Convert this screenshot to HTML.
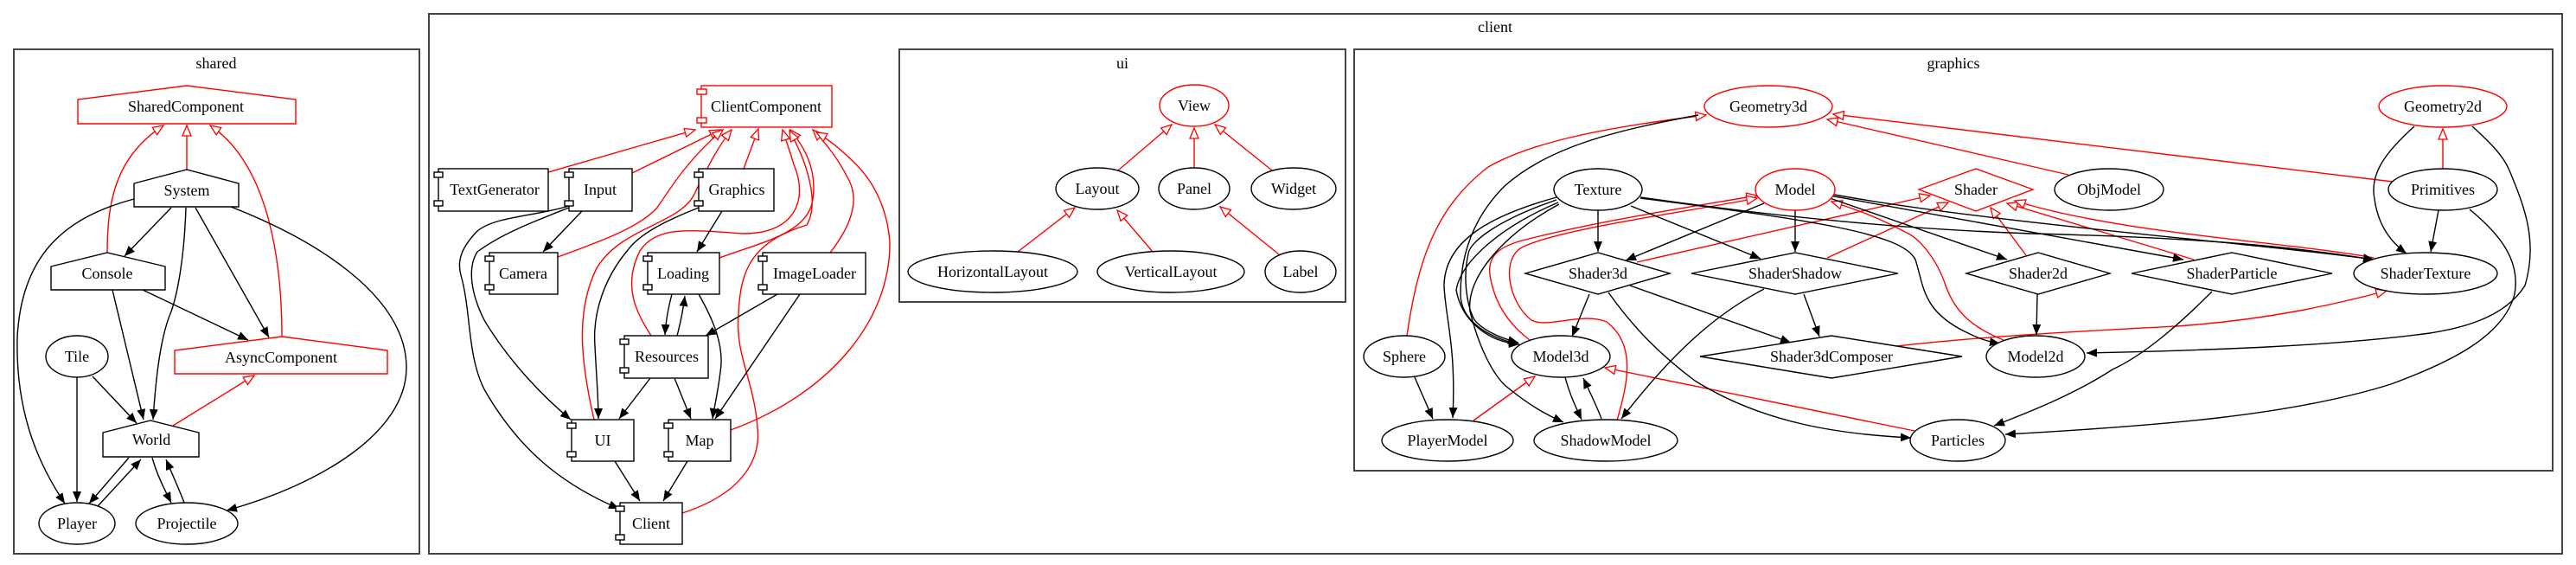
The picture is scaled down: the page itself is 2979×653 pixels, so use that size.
<!DOCTYPE html>
<html><head><meta charset="utf-8"><style>
html,body{margin:0;padding:0;background:#fff;}
svg{display:block;}
text{font-family:"Liberation Serif",serif;font-size:18px;text-anchor:middle;dominant-baseline:central;fill:#000;}
.k{fill:none;stroke:#000;stroke-width:1.4;}
.r{fill:none;stroke:#f00;stroke-width:1.4;}
.nk{fill:#fff;stroke:#000;stroke-width:1.4;}
.nr{fill:#fff;stroke:#f00;stroke-width:1.4;}
.cl{fill:none;stroke:#444;stroke-width:2;}
</style></head><body>
<svg width="2979" height="653" viewBox="0 0 2979 653" xmlns="http://www.w3.org/2000/svg">
<defs>
<marker id="a" markerUnits="userSpaceOnUse" markerWidth="14" markerHeight="12" refX="12" refY="5" orient="auto"><polygon points="0,0 12,5 0,10" fill="#000"/></marker>
<marker id="h" markerUnits="userSpaceOnUse" markerWidth="16" markerHeight="14" refX="13" refY="6" orient="auto"><polygon points="1,1 13,6 1,11" fill="#fff" stroke="#f00" stroke-width="1.3"/></marker>
</defs>

<!-- clusters -->
<rect class="cl" x="16" y="57" width="469" height="583"/>
<text x="250" y="73">shared</text>
<rect class="cl" x="496" y="16" width="2467" height="624"/>
<text x="1729" y="31">client</text>
<rect class="cl" x="1040" y="57" width="516" height="292"/>
<text x="1298" y="73">ui</text>
<rect class="cl" x="1566" y="57" width="1386" height="487"/>
<text x="2259" y="73">graphics</text>

<!-- ===== shared edges ===== -->
<path class="r" d="M124,292 C124,230 135,180 189,145" marker-end="url(#h)"/>
<path class="r" d="M216,196 L216,145" marker-end="url(#h)"/>
<path class="r" d="M326,389 C326,300 310,190 243,145" marker-end="url(#h)"/>
<path class="r" d="M200,492 L294,434" marker-end="url(#h)"/>
<path class="k" d="M198,240 L144,296" marker-end="url(#a)"/>
<path class="k" d="M215,240 C213,300 205,340 198,360 C185,390 180,440 177,485" marker-end="url(#a)"/>
<path class="k" d="M226,240 L311,390" marker-end="url(#a)"/>
<path class="k" d="M155,230 C80,250 25,290 20,390 C18,470 40,530 75,582" marker-end="url(#a)"/>
<path class="k" d="M267,239 C360,275 470,340 470,425 C470,500 370,560 262,590" marker-end="url(#a)"/>
<path class="k" d="M130,335 L166,485" marker-end="url(#a)"/>
<path class="k" d="M165,335 L287,393" marker-end="url(#a)"/>
<path class="k" d="M107,435 L158,489" marker-end="url(#a)"/>
<path class="k" d="M89,436 L89,580" marker-end="url(#a)"/>
<path class="k" d="M149,529 L103,582" marker-end="url(#a)"/>
<path class="k" d="M113,585 L163,531" marker-end="url(#a)"/>
<path class="k" d="M176,529 C182,550 190,565 198,581" marker-end="url(#a)"/>
<path class="k" d="M213,581 C207,565 200,550 192,531" marker-end="url(#a)"/>

<!-- shared nodes -->
<polygon class="nr" points="90,143 90,115 216,99 342,115 342,143"/><text x="215" y="123">SharedComponent</text>
<polygon class="nk" points="155,239 155,212 216,196 276,212 276,239"/><text x="216" y="220">System</text>
<polygon class="nk" points="59,335 59,308 124,292 191,308 191,335"/><text x="124" y="316">Console</text>
<polygon class="nr" points="202,432 202,405 326,389 448,405 448,432"/><text x="325" y="413">AsyncComponent</text>
<ellipse class="nk" cx="89" cy="412" rx="36" ry="24"/><text x="89" y="412">Tile</text>
<polygon class="nk" points="119,528 119,500 174,486 230,500 230,528"/><text x="175" y="508">World</text>
<ellipse class="nk" cx="89" cy="605" rx="44" ry="24"/><text x="89" y="605">Player</text>
<ellipse class="nk" cx="216" cy="605" rx="59" ry="24"/><text x="216" y="605">Projectile</text>

<!-- ===== client edges ===== -->
<path class="r" d="M634,199 L804,150" marker-end="url(#h)"/>
<path class="r" d="M731,200 L833,150" marker-end="url(#h)"/>
<path class="r" d="M645,297 C700,277 740,262 760,240 C780,210 800,180 836,150" marker-end="url(#h)"/>
<path class="r" d="M687,485 C672,420 665,360 690,310 C720,260 790,260 805,220 C820,190 830,170 846,150" marker-end="url(#h)"/>
<path class="r" d="M860,195 L877,149" marker-end="url(#h)"/>
<path class="r" d="M832,298 C880,280 935,270 940,230 C945,195 930,170 914,150" marker-end="url(#h)"/>
<path class="r" d="M753,388 C735,360 720,330 740,290 C760,260 800,266 860,270 C920,270 935,230 918,190 C912,170 908,160 905,150" marker-end="url(#h)"/>
<path class="r" d="M789,593 C860,570 880,530 876,494 C872,440 850,410 854,364 C856,310 870,280 933,260 C945,240 940,200 913,151" marker-end="url(#h)"/>
<path class="r" d="M960,292 C985,260 995,230 980,205 C970,185 955,165 940,150" marker-end="url(#h)"/>
<path class="r" d="M845,497 C960,455 1030,370 1029,280 C1026,240 1010,210 990,190 C975,175 960,162 944,153" marker-end="url(#h)"/>
<path class="k" d="M673,244 L628,291" marker-end="url(#a)"/>
<path class="k" d="M658,240 C620,255 580,270 552,291 C540,310 545,340 560,370 C590,420 630,460 660,485" marker-end="url(#a)"/>
<path class="k" d="M658,238 C620,250 570,250 551,268 C535,285 528,300 533,318 C545,360 540,410 560,450 C600,520 650,560 716,588" marker-end="url(#a)"/>
<path class="k" d="M808,240 C770,255 740,270 726,289 C700,320 685,360 688,400 C690,440 692,460 692,484" marker-end="url(#a)"/>
<path class="k" d="M835,244 L806,291" marker-end="url(#a)"/>
<path class="k" d="M777,340 C773,355 770,370 769,387" marker-end="url(#a)"/>
<path class="k" d="M783,388 C787,373 790,358 792,342" marker-end="url(#a)"/>
<path class="k" d="M808,340 C825,370 838,400 833,430 C830,455 826,470 824,484" marker-end="url(#a)"/>
<path class="k" d="M899,340 L816,388" marker-end="url(#a)"/>
<path class="k" d="M925,340 L827,484" marker-end="url(#a)"/>
<path class="k" d="M752,437 L716,484" marker-end="url(#a)"/>
<path class="k" d="M780,437 L799,484" marker-end="url(#a)"/>
<path class="k" d="M711,533 L740,579" marker-end="url(#a)"/>
<path class="k" d="M795,533 L767,579" marker-end="url(#a)"/>

<!-- client nodes (component boxes) -->
<g>
<rect class="nr" x="811" y="99" width="151" height="48"/><rect class="nr" x="806" y="103" width="11" height="6"/><rect class="nr" x="806" y="136" width="11" height="6"/><text x="886" y="123">ClientComponent</text>
<rect class="nk" x="507" y="195" width="127" height="49"/><rect class="nk" x="502" y="199" width="10" height="6"/><rect class="nk" x="502" y="232" width="10" height="6"/><text x="572" y="219">TextGenerator</text>
<rect class="nk" x="658" y="195" width="73" height="49"/><rect class="nk" x="653" y="199" width="10" height="6"/><rect class="nk" x="653" y="232" width="10" height="6"/><text x="694" y="219">Input</text>
<rect class="nk" x="808" y="195" width="87" height="49"/><rect class="nk" x="803" y="199" width="10" height="6"/><rect class="nk" x="803" y="232" width="10" height="6"/><text x="852" y="219">Graphics</text>
<rect class="nk" x="566" y="292" width="79" height="48"/><rect class="nk" x="561" y="296" width="10" height="6"/><rect class="nk" x="561" y="329" width="10" height="6"/><text x="605" y="316">Camera</text>
<rect class="nk" x="749" y="292" width="83" height="48"/><rect class="nk" x="744" y="296" width="10" height="6"/><rect class="nk" x="744" y="329" width="10" height="6"/><text x="790" y="316">Loading</text>
<rect class="nk" x="882" y="292" width="119" height="48"/><rect class="nk" x="877" y="296" width="10" height="6"/><rect class="nk" x="877" y="329" width="10" height="6"/><text x="942" y="316">ImageLoader</text>
<rect class="nk" x="722" y="388" width="97" height="49"/><rect class="nk" x="717" y="392" width="10" height="6"/><rect class="nk" x="717" y="425" width="10" height="6"/><text x="771" y="412">Resources</text>
<rect class="nk" x="661" y="485" width="72" height="48"/><rect class="nk" x="656" y="489" width="10" height="6"/><rect class="nk" x="656" y="522" width="10" height="6"/><text x="697" y="509">UI</text>
<rect class="nk" x="773" y="485" width="72" height="48"/><rect class="nk" x="768" y="489" width="10" height="6"/><rect class="nk" x="768" y="522" width="10" height="6"/><text x="809" y="509">Map</text>
<rect class="nk" x="717" y="581" width="72" height="48"/><rect class="nk" x="712" y="585" width="10" height="6"/><rect class="nk" x="712" y="618" width="10" height="6"/><text x="753" y="605">Client</text>
</g>

<!-- ===== ui ===== -->
<path class="r" d="M1293,197 L1355,144" marker-end="url(#h)"/>
<path class="r" d="M1381,194 L1381,148" marker-end="url(#h)"/>
<path class="r" d="M1471,197 L1405,144" marker-end="url(#h)"/>
<path class="r" d="M1177,291 L1243,240" marker-end="url(#h)"/>
<path class="r" d="M1333,291 L1292,243" marker-end="url(#h)"/>
<path class="r" d="M1479,294 L1411,239" marker-end="url(#h)"/>
<ellipse class="nr" cx="1381" cy="122" rx="40" ry="24"/><text x="1381" y="122">View</text>
<ellipse class="nk" cx="1269" cy="218" rx="48" ry="24"/><text x="1269" y="218">Layout</text>
<ellipse class="nk" cx="1381" cy="218" rx="41" ry="24"/><text x="1381" y="218">Panel</text>
<ellipse class="nk" cx="1496" cy="218" rx="49" ry="24"/><text x="1496" y="218">Widget</text>
<ellipse class="nk" cx="1148" cy="314" rx="98" ry="24"/><text x="1148" y="314">HorizontalLayout</text>
<ellipse class="nk" cx="1354" cy="314" rx="85" ry="24"/><text x="1354" y="314">VerticalLayout</text>
<ellipse class="nk" cx="1504" cy="314" rx="41" ry="24"/><text x="1504" y="314">Label</text>

<!-- ===== graphics edges ===== -->
<!-- red -->
<path class="r" d="M1627,388 C1640,300 1660,240 1721,193 C1770,165 1850,148 1973,133" marker-end="url(#h)"/>
<path class="r" d="M2392,202 L2113,138" marker-end="url(#h)"/>
<path class="r" d="M2767,210 L2120,132" marker-end="url(#h)"/>
<path class="r" d="M2825,195 L2825,149" marker-end="url(#h)"/>
<path class="r" d="M1769,393 C1745,375 1728,350 1723,318 C1720,295 1735,285 1760,278 C1850,255 1950,240 2032,226" marker-end="url(#h)"/>
<path class="r" d="M1870,486 C1880,450 1895,400 1858,372 C1830,360 1790,380 1771,370 C1745,350 1735,300 1760,286 C1800,265 1950,245 2032,229" marker-end="url(#h)"/>
<path class="r" d="M2317,393 C2285,380 2262,364 2250,330 C2240,300 2220,275 2203,268 C2170,250 2140,240 2118,233" marker-end="url(#h)"/>
<path class="r" d="M1893,303 L2232,226" marker-end="url(#h)"/>
<path class="r" d="M2113,298 L2253,234" marker-end="url(#h)"/>
<path class="r" d="M2343,295 L2302,240" marker-end="url(#h)"/>
<path class="r" d="M2537,300 L2321,235" marker-end="url(#h)"/>
<path class="r" d="M2745,298 C2650,280 2450,270 2330,232" marker-end="url(#h)"/>
<path class="r" d="M2194,400 C2300,388 2420,382 2517,377 C2620,370 2700,352 2760,336" marker-end="url(#h)"/>
<path class="r" d="M1704,486 L1775,435" marker-end="url(#h)"/>
<path class="r" d="M2214,498 L1856,425" marker-end="url(#h)"/>
<!-- black -->
<path class="k" d="M1848,243 L1848,291" marker-end="url(#a)"/>
<path class="k" d="M1886,238 L2036,299" marker-end="url(#a)"/>
<path class="k" d="M1800,228 C1720,250 1670,280 1670,331 C1672,370 1684,400 1680,483" marker-end="url(#a)"/>
<path class="k" d="M1800,231 C1730,255 1700,280 1698,293 C1690,330 1700,365 1707,372 C1720,385 1740,392 1756,396" marker-end="url(#a)"/>
<path class="k" d="M1802,234 C1740,260 1690,300 1684,335 C1690,370 1720,395 1757,398" marker-end="url(#a)"/>
<path class="k" d="M1803,236 C1740,270 1695,320 1700,360 C1710,400 1725,430 1740,445 C1770,470 1790,480 1808,488" marker-end="url(#a)"/>
<path class="k" d="M1964,133 C1870,150 1790,170 1740,215 C1700,255 1689,300 1689,340 C1689,370 1720,390 1757,398" marker-end="url(#a)"/>
<path class="k" d="M1897,228 C2050,250 2200,265 2350,270 C2550,275 2650,285 2745,300" marker-end="url(#a)"/>
<path class="k" d="M1897,229 C2100,255 2200,270 2215,300 C2225,330 2222,360 2276,385 C2290,392 2300,395 2313,397" marker-end="url(#a)"/>
<path class="k" d="M2040,235 L1880,301" marker-end="url(#a)"/>
<path class="k" d="M2076,243 L2076,291" marker-end="url(#a)"/>
<path class="k" d="M2116,229 L2321,300" marker-end="url(#a)"/>
<path class="k" d="M2116,226 L2525,300" marker-end="url(#a)"/>
<path class="k" d="M2116,224 C2300,258 2600,280 2745,300" marker-end="url(#a)"/>
<path class="k" d="M1838,340 L1818,389" marker-end="url(#a)"/>
<path class="k" d="M1885,330 L2071,396" marker-end="url(#a)"/>
<path class="k" d="M1860,338 C1890,380 1920,410 1960,440 C2040,490 2130,502 2210,506" marker-end="url(#a)"/>
<path class="k" d="M2086,340 L2104,389" marker-end="url(#a)"/>
<path class="k" d="M2040,334 C1990,360 1940,400 1875,484" marker-end="url(#a)"/>
<path class="k" d="M2356,340 L2355,387" marker-end="url(#a)"/>
<path class="k" d="M2558,337 C2520,375 2480,410 2443,427 C2400,455 2350,475 2306,492" marker-end="url(#a)"/>
<path class="k" d="M1810,436 C1815,455 1822,470 1829,485" marker-end="url(#a)"/>
<path class="k" d="M1852,484 C1846,468 1838,452 1831,437" marker-end="url(#a)"/>
<path class="k" d="M1636,436 L1657,484" marker-end="url(#a)"/>
<path class="k" d="M2792,146 C2760,175 2740,200 2746,230 C2750,260 2765,280 2783,293" marker-end="url(#a)"/>
<path class="k" d="M2820,243 L2811,291" marker-end="url(#a)"/>
<path class="k" d="M2859,146 C2880,165 2895,180 2902,197 C2920,240 2935,280 2920,330 C2895,370 2840,380 2810,385 C2700,400 2550,405 2413,408" marker-end="url(#a)"/>
<path class="k" d="M2856,242 C2890,270 2915,300 2908,340 C2895,390 2830,420 2765,444 C2650,480 2500,492 2319,502" marker-end="url(#a)"/>

<!-- graphics nodes -->
<ellipse class="nr" cx="2045" cy="123" rx="74" ry="24"/><text x="2045" y="123">Geometry3d</text>
<ellipse class="nk" cx="1848" cy="219" rx="51" ry="24"/><text x="1848" y="219">Texture</text>
<ellipse class="nr" cx="2076" cy="219" rx="46" ry="24"/><text x="2076" y="219">Model</text>
<polygon class="nr" points="2219,219 2285,195 2351,219 2285,244"/><text x="2285" y="219">Shader</text>
<ellipse class="nk" cx="2439" cy="219" rx="63" ry="24"/><text x="2439" y="219">ObjModel</text>
<ellipse class="nr" cx="2825" cy="123" rx="74" ry="24"/><text x="2825" y="123">Geometry2d</text>
<ellipse class="nk" cx="2825" cy="219" rx="63" ry="24"/><text x="2825" y="219">Primitives</text>
<polygon class="nk" points="1764,316 1848,292 1931,316 1848,340"/><text x="1848" y="316">Shader3d</text>
<polygon class="nk" points="1956,316 2076,292 2195,316 2076,340"/><text x="2076" y="316">ShaderShadow</text>
<polygon class="nk" points="2274,316 2357,292 2440,316 2357,340"/><text x="2357" y="316">Shader2d</text>
<polygon class="nk" points="2465,316 2581,292 2697,316 2581,340"/><text x="2581" y="316">ShaderParticle</text>
<ellipse class="nk" cx="2805" cy="316" rx="83" ry="24"/><text x="2805" y="316">ShaderTexture</text>
<ellipse class="nk" cx="1624" cy="412" rx="47" ry="24"/><text x="1624" y="412">Sphere</text>
<ellipse class="nk" cx="1805" cy="412" rx="57" ry="24"/><text x="1805" y="412">Model3d</text>
<polygon class="nk" points="1966,412 2118,388 2269,412 2118,437"/><text x="2118" y="412">Shader3dComposer</text>
<ellipse class="nk" cx="2354" cy="412" rx="57" ry="24"/><text x="2354" y="412">Model2d</text>
<ellipse class="nk" cx="1674" cy="509" rx="76" ry="24"/><text x="1674" y="509">PlayerModel</text>
<ellipse class="nk" cx="1857" cy="509" rx="83" ry="24"/><text x="1857" y="509">ShadowModel</text>
<ellipse class="nk" cx="2264" cy="509" rx="55" ry="24"/><text x="2264" y="509">Particles</text>
</svg>
</body></html>
